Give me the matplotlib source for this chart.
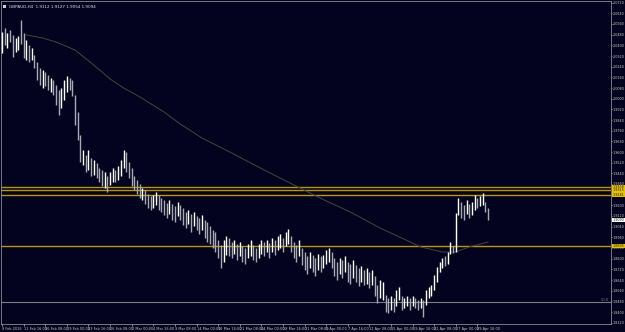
import matplotlib
matplotlib.use("Agg")
import matplotlib.pyplot as plt
from matplotlib.ticker import MultipleLocator, FormatStrFormatter

# ---------------- data ----------------
bar_high = [2.0500, 2.0530, 2.0493, 2.0515, 2.0478, 2.0455, 2.0470, 2.0590, 2.0493, 2.0440,
            2.0403, 2.0380, 2.0328, 2.0275, 2.0230, 2.0215, 2.0200, 2.0178, 2.0155, 2.0140,
            2.0103, 2.0065, 2.0080, 2.0140, 2.0170, 2.0155, 2.0140, 2.0028, 1.9900, 1.9728,
            1.9615, 1.9578, 1.9615, 1.9555, 1.9540, 1.9518, 1.9480, 1.9465, 1.9450, 1.9420,
            1.9450, 1.9480, 1.9465, 1.9495, 1.9540, 1.9615, 1.9600, 1.9525, 1.9480, 1.9420,
            1.9390, 1.9360, 1.9330, 1.9315, 1.9285, 1.9270, 1.9278, 1.9300, 1.9278, 1.9255,
            1.9240, 1.9218, 1.9240, 1.9210, 1.9195, 1.9225, 1.9203, 1.9180, 1.9150, 1.9165,
            1.9135, 1.9150, 1.9120, 1.9105, 1.9128, 1.9090, 1.9075, 1.9045, 1.9015, 1.9000,
            1.8940, 1.8903, 1.8940, 1.8970, 1.8955, 1.8925, 1.8940, 1.8910, 1.8925, 1.8895,
            1.8880, 1.8910, 1.8940, 1.8903, 1.8880, 1.8910, 1.8940, 1.8925, 1.8940, 1.8918,
            1.8955, 1.8940, 1.8970, 1.8985, 1.8955, 1.9000, 1.9023, 1.8970, 1.8925, 1.8903,
            1.8940, 1.8880, 1.8850, 1.8820, 1.8850, 1.8828, 1.8805, 1.8835, 1.8820, 1.8828,
            1.8865, 1.8880, 1.8850, 1.8805, 1.8775, 1.8805, 1.8790, 1.8820, 1.8775, 1.8760,
            1.8790, 1.8753, 1.8730, 1.8745, 1.8715, 1.8730, 1.8700, 1.8715, 1.8670, 1.8603,
            1.8640, 1.8625, 1.8528, 1.8505, 1.8520, 1.8505, 1.8565, 1.8588, 1.8520, 1.8505,
            1.8520, 1.8505, 1.8520, 1.8505, 1.8490, 1.8505, 1.8490, 1.8565, 1.8588, 1.8603,
            1.8678, 1.8738, 1.8775, 1.8805, 1.8820, 1.8850, 1.8925, 1.8895, 1.9143, 1.9255,
            1.9225, 1.9203, 1.9240, 1.9210, 1.9225, 1.9278, 1.9255, 1.9270, 1.9293, 1.9225,
            1.9180]
bar_low = [2.0343, 2.0403, 2.0380, 2.0425, 2.0313, 2.0350, 2.0365, 2.0410, 2.0305, 2.0290,
           2.0275, 2.0290, 2.0230, 2.0140, 2.0103, 2.0080, 2.0095, 2.0065, 2.0050, 2.0028,
           1.9953, 1.9878, 1.9930, 1.9990, 2.0050, 2.0065, 2.0020, 1.9803, 1.9690, 1.9525,
           1.9503, 1.9450, 1.9465, 1.9420, 1.9428, 1.9405, 1.9375, 1.9345, 1.9330, 1.9300,
           1.9353, 1.9375, 1.9375, 1.9390, 1.9420, 1.9480, 1.9450, 1.9405, 1.9345, 1.9315,
           1.9285, 1.9255, 1.9240, 1.9210, 1.9180, 1.9165, 1.9180, 1.9203, 1.9165, 1.9150,
           1.9128, 1.9105, 1.9135, 1.9090, 1.9075, 1.9120, 1.9090, 1.9053, 1.9030, 1.9060,
           1.9000, 1.9045, 1.9015, 1.8985, 1.9015, 1.8955, 1.8925, 1.8910, 1.8880, 1.8850,
           1.8805, 1.8730, 1.8775, 1.8828, 1.8820, 1.8805, 1.8835, 1.8790, 1.8820, 1.8775,
           1.8760, 1.8805, 1.8820, 1.8790, 1.8775, 1.8805, 1.8835, 1.8820, 1.8850, 1.8805,
           1.8850, 1.8828, 1.8865, 1.8880, 1.8850, 1.8895, 1.8910, 1.8850, 1.8805, 1.8775,
           1.8820, 1.8753, 1.8715, 1.8685, 1.8730, 1.8700, 1.8670, 1.8715, 1.8700, 1.8730,
           1.8760, 1.8775, 1.8730, 1.8670, 1.8640, 1.8685, 1.8655, 1.8700, 1.8625, 1.8610,
           1.8655, 1.8625, 1.8595, 1.8625, 1.8603, 1.8610, 1.8580, 1.8603, 1.8520, 1.8468,
           1.8505, 1.8490, 1.8400, 1.8393, 1.8415, 1.8400, 1.8445, 1.8490, 1.8415, 1.8430,
           1.8445, 1.8415, 1.8445, 1.8430, 1.8415, 1.8430, 1.8363, 1.8453, 1.8505, 1.8520,
           1.8565, 1.8625, 1.8700, 1.8730, 1.8745, 1.8760, 1.8835, 1.8843, 1.8850, 1.9128,
           1.9105, 1.9090, 1.9135, 1.9105, 1.9128, 1.9165, 1.9180, 1.9195, 1.9203, 1.9150,
           1.9090]
bar_dir = ("UDUDDUUDDU" "DUDDDUDDUD" "DDUUUDDDDD" "UDUDUDDDUD" "UUDUUUDDDD"
           "DDUDDDUUDD" "DDUDDUDDDU" "DUDDUDDDDD" "DDUUDDUDUD" "DUUDDUUDUD"
           "UDUUDUUDDD" "UDDDUDDUDU" "UUDDDUDUDD" "UDDUDUDUDD" "UUDDUDUUDU"
           "UDUDDUDUUU" "UUUUDUUDUU" "DDUDUUDUUD" "D")

ma_bars = [9, 15, 20, 27, 33, 40, 45, 51, 60, 66, 74, 85, 92, 100, 111, 120, 129,
           140, 148, 155, 163, 168, 173, 180]
ma_values = [2.0478, 2.0455, 2.0425, 2.0365, 2.0268, 2.0148, 2.0080, 2.0013, 1.9900,
             1.9810, 1.9705, 1.9593, 1.9518, 1.9435, 1.9323, 1.9233, 1.9150, 1.9030,
             1.8955, 1.8888, 1.8850, 1.8850, 1.8888, 1.8925]

level_yellow = [1.9338, 1.9315, 1.9281, 1.8895]
level_grey = 1.8475
level_grey_text = "50.0"
current_price = 1.9090

date_labels = ["9 Feb 2016", "11 Feb 16:00", "16 Feb 08:00", "19 Feb 00:00", "23 Feb 16:00",
               "26 Feb 08:00", "2 Mar 00:00", "4 Mar 16:00", "9 Mar 08:00", "14 Mar 00:00",
               "16 Mar 16:00", "21 Mar 08:00", "24 Mar 00:00", "28 Mar 16:00", "31 Mar 08:00",
               "5 Apr 00:00", "7 Apr 16:00", "12 Apr 08:00", "15 Apr 00:00", "19 Apr 16:00",
               "22 Apr 08:00", "27 Apr 00:00", "29 Apr 16:00"]
date_label_step = 8

header = "GBPAUD,H4  1.9112 1.9127 1.9054 1.9094"

# ---------------- styling ----------------
BG = "#03031f"
W, H = 625, 332
FS_X = 2.5
FS_Y = 2.45
fig = plt.figure(figsize=(W / 100, H / 100), dpi=100, facecolor=BG)
ax = fig.add_axes([1 / W, 8 / H, 610 / W, 323 / H], facecolor=BG)

n = len(bar_high)
xs = list(range(n))
cols = ["#ffffff" if d == "U" else "#a9a9b4" for d in bar_dir]
ax.vlines(xs, bar_low, bar_high, colors=cols, linewidth=1.0, zorder=3)

ax.plot(ma_bars, ma_values, color="#45453a", linewidth=0.7, zorder=2)

for lv in level_yellow:
    ax.axhline(lv, color="#b8960b", linewidth=1.0, zorder=1)
ax.axhline(level_grey, color="#7c7c86", linewidth=0.8, zorder=1)
ax.text(0.997, level_grey, level_grey_text, transform=ax.get_yaxis_transform(),
        ha="right", va="bottom", fontsize=2.6, color="#7c7c86")

ax.set_xlim(-0.4, 225.5)
ax.set_ylim(1.8310, 2.07325)

# right price axis
ax.yaxis.tick_right()
ax.yaxis.set_major_locator(MultipleLocator(0.008))
ax.yaxis.set_major_formatter(FormatStrFormatter("%.4f"))
ax.tick_params(axis="y", colors="#c8c8c8", labelsize=FS_Y, length=1.0, width=0.5, pad=0.5)

# bottom time axis
ax.set_xticks([i * date_label_step for i in range(len(date_labels))])
ax.set_xticklabels(date_labels)
for lab in ax.get_xticklabels():
    lab.set_horizontalalignment("left")
ax.tick_params(axis="x", colors="#c8c8c8", labelsize=FS_X, length=1.5, width=0.5, pad=0.8)

for s in ax.spines.values():
    s.set_color("#8a8a92")
    s.set_linewidth(0.6)

# highlighted price labels on the axis
for lv in level_yellow:
    ax.annotate(f"{lv:.4f}", xy=(1.0, lv), xycoords=("axes fraction", "data"),
                xytext=(1.3, 0), textcoords="offset points", ha="left", va="center",
                fontsize=FS_Y, color="#202020",
                bbox=dict(boxstyle="square,pad=0.12", fc="#e6c200", ec="none"))
ax.annotate(f"{current_price:.4f}", xy=(1.0, current_price), xycoords=("axes fraction", "data"),
            xytext=(1.3, 0), textcoords="offset points", ha="left", va="center",
            fontsize=FS_Y, color="#202020",
            bbox=dict(boxstyle="square,pad=0.12", fc="#ffffff", ec="none"))

# header
fig.patches.append(plt.Rectangle((3 / W, 1 - 8 / H), 3 / W, 3 / H, transform=fig.transFigure,
                                 facecolor="#d0d0d0", edgecolor="none"))
fig.text(9 / W, 1 - 6.5 / H, header, fontsize=3.0, color="#e0e0e0", va="center", ha="left")

fig.savefig("out.png", dpi=100, facecolor=BG)
